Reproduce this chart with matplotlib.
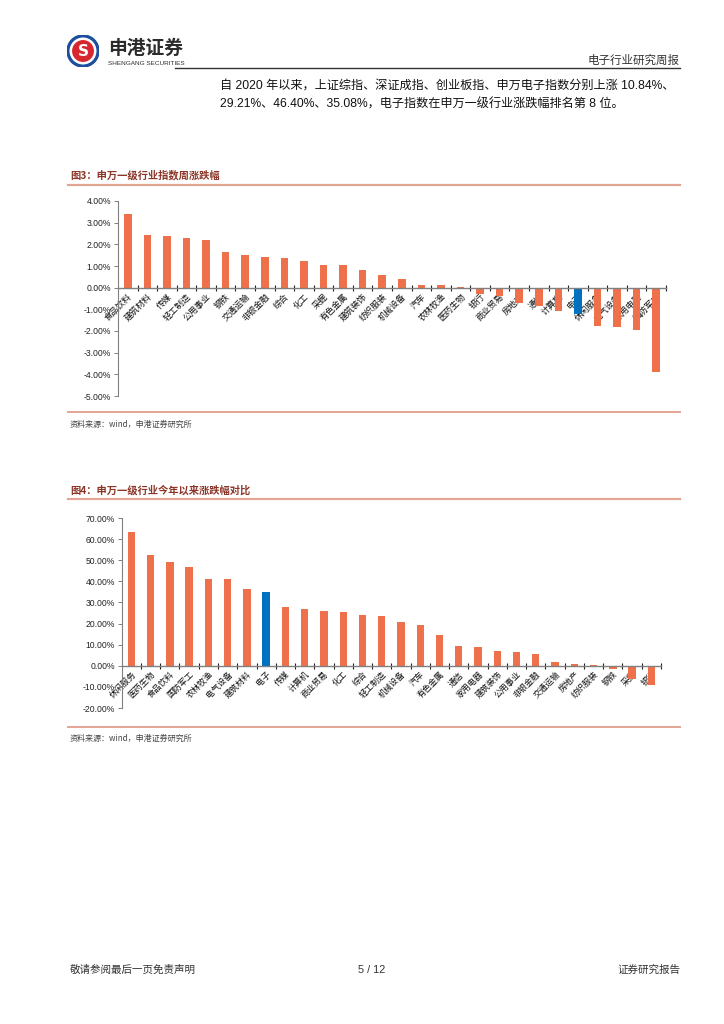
import matplotlib.pyplot as plt
from matplotlib.lines import Line2D
from matplotlib.patches import Circle
from matplotlib.ticker import FixedLocator
from matplotlib.transforms import ScaledTranslation

plt.rcParams['font.family'] = ['Noto Sans CJK SC', 'DejaVu Sans']

# 图3 data: weekly change (%)
weekly_cats = ['食品饮料', '建筑材料', '传媒', '轻工制造', '公用事业', '钢铁', '交通运输',
               '非银金融', '综合', '化工', '采掘', '有色金属', '建筑装饰', '纺织服装',
               '机械设备', '汽车', '农林牧渔', '医药生物', '银行', '商业贸易', '房地产',
               '通信', '计算机', '电子', '休闲服务', '电气设备', '家用电器', '国防军工']
weekly_vals = [3.40, 2.42, 2.38, 2.28, 2.21, 1.63, 1.49, 1.40, 1.37, 1.23, 1.05, 1.03,
               0.82, 0.60, 0.40, 0.12, 0.11, 0.01, -0.30, -0.38, -0.72, -0.85, -1.06,
               -1.22, -1.76, -1.80, -1.97, -3.91]

# 图4 data: year-to-date change (%)
ytd_cats = ['休闲服务', '医药生物', '食品饮料', '国防军工', '农林牧渔', '电气设备', '建筑材料',
            '电子', '传媒', '计算机', '商业贸易', '化工', '综合', '轻工制造', '机械设备',
            '汽车', '有色金属', '通信', '家用电器', '建筑装饰', '公用事业', '非银金融',
            '交通运输', '房地产', '纺织服装', '钢铁', '采掘', '银行']
ytd_vals = [63.5, 52.4, 49.0, 46.9, 41.2, 41.0, 36.3, 35.08, 28.0, 26.9, 26.1, 25.4,
            24.0, 23.4, 20.9, 19.4, 14.5, 9.5, 8.7, 7.0, 6.6, 5.7, 1.9, 0.9, 0.5,
            -1.7, -6.2, -9.3]

ORANGE = '#EF714B'
BLUE = '#0070C0'
TITLE_C = '#8B3527'
RULE_C = '#E2A594'
W, H = 724, 1024


def fx(x):
    return x / W


def fy(y):
    return 1 - y / H


def hline(fig, y, x0=68, x1=680, color=RULE_C, lw=1.6):
    fig.add_artist(Line2D([fx(x0), fx(x1)], [fy(y), fy(y)], transform=fig.transFigure,
                          color=color, lw=lw))


def bar_chart(fig, ax, cats, vals, highlight, ylo, yhi, step, lab_size, shift_px):
    x = range(len(cats))
    colors = [BLUE if c == highlight else ORANGE for c in cats]
    ax.bar(x, vals, width=0.38, color=colors, zorder=2)
    ax.set_xlim(-0.5, len(cats) - 0.5)
    ax.set_ylim(ylo, yhi)
    ticks = list(range(ylo, yhi + 1, step))
    ax.set_yticks(ticks)
    ax.set_yticklabels(['%.2f%%' % t for t in ticks], fontsize=6.2,
                       family='Liberation Sans', color='#222222')
    ax.tick_params(axis='y', direction='out', length=3, width=0.7, color='#808080', pad=2)
    for s in ['top', 'right']:
        ax.spines[s].set_visible(False)
    ax.spines['left'].set_color('#808080')
    ax.spines['left'].set_linewidth(0.8)
    ax.spines['bottom'].set_position(('data', 0))
    ax.spines['bottom'].set_color('#808080')
    ax.spines['bottom'].set_linewidth(1.0)
    ax.set_xticks(list(x))
    ax.set_xticklabels(cats, fontsize=lab_size, rotation=45, ha='right', va='top',
                       rotation_mode='anchor', color='#111111')
    shift = ScaledTranslation(shift_px / 100, 0, fig.dpi_scale_trans)
    for lab in ax.get_xticklabels():
        lab.set_transform(lab.get_transform() + shift)
    ax.xaxis.set_minor_locator(FixedLocator([i + 0.5 for i in range(len(cats))]))
    ax.tick_params(axis='x', which='major', length=0, pad=3)
    ax.tick_params(axis='x', which='minor', direction='inout', length=4, width=0.8,
                   color='#222222')
    ax.set_facecolor('none')


fig = plt.figure(figsize=(7.24, 10.24), dpi=100)

# header
logo = fig.add_axes([fx(67), fy(67), 32 / W, 32 / H])
logo.set_xlim(-1, 1)
logo.set_ylim(-1, 1)
logo.axis('off')
logo.add_patch(Circle((0, 0), 1.0, color='#1D4E9E'))
logo.add_patch(Circle((0, 0), 0.80, color='white'))
logo.add_patch(Circle((0, 0), 0.64, color='#D8262E'))
logo.text(0, -0.05, 'S', color='white', fontsize=11, fontweight='bold',
          ha='center', va='center', family='DejaVu Sans')
fig.text(fx(108), fy(48), '申港证券', fontsize=13.5, fontweight='bold', color='#2B2B2B',
         va='center')
fig.text(fx(108), fy(63.5), 'SHENGANG SECURITIES', fontsize=4.6, color='#2B2B2B',
         va='center', family='Liberation Sans')
fig.text(fx(680), fy(60), '电子行业研究周报', fontsize=8.3, color='#333333',
         ha='right', va='center')
hline(fig, 67.5, x0=175, x1=680, color='#333333', lw=1.0)

body_font = ['Liberation Sans', 'Noto Sans CJK SC']
fig.text(fx(220), fy(86), '自 2020 年以来，上证综指、深证成指、创业板指、申万电子指数分别上涨 10.84%、',
         fontsize=8.75, color='#111111', va='center', family=body_font)
fig.text(fx(220), fy(104), '29.21%、46.40%、35.08%，电子指数在申万一级行业涨跌幅排名第 8 位。',
         fontsize=8.75, color='#111111', va='center', family=body_font)

# 图3
fig.text(fx(70), fy(175.5), '图3：申万一级行业指数周涨跌幅', fontsize=7.4,
         fontweight='bold', color=TITLE_C, va='center')
hline(fig, 184.5)
ax3 = fig.add_axes([fx(118), fy(396), (666 - 118) / W, (396 - 201) / H])
bar_chart(fig, ax3, weekly_cats, weekly_vals, '电子', -5, 4, 1, 6.2, 2)
hline(fig, 412, lw=1.4)
fig.text(fx(70), fy(424), '资料来源：wind，申港证券研究所', fontsize=5.8,
         color='#444444', va='center', style='italic')

# 图4
fig.text(fx(70), fy(490), '图4：申万一级行业今年以来涨跌幅对比', fontsize=7.4,
         fontweight='bold', color=TITLE_C, va='center')
hline(fig, 499)
ax4 = fig.add_axes([fx(121.7), fy(708), (661 - 121.7) / W, (708 - 518) / H])
bar_chart(fig, ax4, ytd_cats, ytd_vals, '电子', -20, 70, 10, 6.0, 5)
hline(fig, 727, lw=1.4)
fig.text(fx(70), fy(738), '资料来源：wind，申港证券研究所', fontsize=5.8,
         color='#444444', va='center', style='italic')

# footer
fig.text(fx(70), fy(970), '敬请参阅最后一页免责声明', fontsize=7.6, color='#333333', va='center')
fig.text(fx(372), fy(970), '5 / 12', fontsize=7.8, color='#333333', va='center', ha='center',
         family='Liberation Sans')
fig.text(fx(680), fy(970), '证券研究报告', fontsize=7.6, color='#333333', va='center', ha='right')

fig.savefig('out.png', dpi=100)
